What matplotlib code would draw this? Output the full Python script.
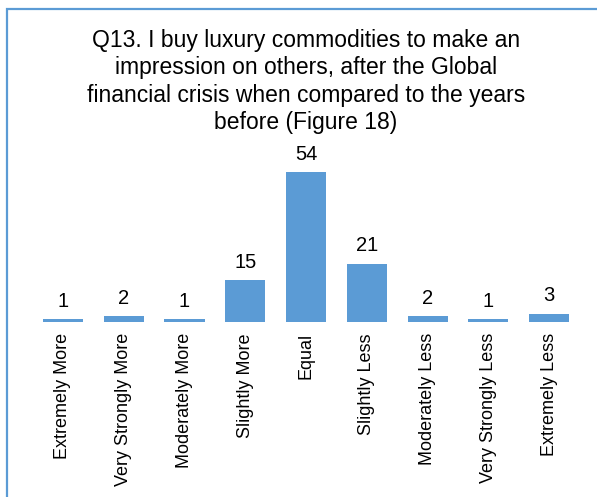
import matplotlib.pyplot as plt
from matplotlib.patches import Rectangle

categories = ["Extremely More", "Very Strongly More", "Moderately More",
              "Slightly More", "Equal", "Slightly Less", "Moderately Less",
              "Very Strongly Less", "Extremely Less"]
counts = [1, 2, 1, 15, 54, 21, 2, 1, 3]

title = ("Q13. I buy luxury commodities to make an\n"
         "impression on others, after the Global\n"
         "financial crisis when compared to the years\n"
         "before (Figure 18)")

plt.rcParams['font.family'] = ['Liberation Sans', 'DejaVu Sans']

W, H = 597, 497
fig = plt.figure(figsize=(W / 100, H / 100), dpi=100)

# chart frame, runs off the right and bottom edges
fig.patches.append(Rectangle((7 / W, -0.1), 1.2, 1 - 9 / H + 0.1,
                             transform=fig.transFigure, fill=False,
                             edgecolor='#5B9BD5', linewidth=1.6))

ax = fig.add_axes([32.6 / W, 1 - 322 / H, 547 / W, 166.7 / H])
x = range(len(categories))
bars = ax.bar(x, counts, width=0.66, color='#5B9BD5')
for b, v in zip(bars, counts):
    ax.annotate(str(v), (b.get_x() + b.get_width() / 2, v),
                xytext=(0, 6), textcoords='offset points',
                ha='center', va='bottom', fontsize=14.5)

ax.set_xlim(-0.5, len(categories) - 0.5)
ax.set_ylim(0, 60)
ax.set_xticks(list(x))
ax.set_xticklabels(categories, rotation=90, fontsize=13)
ax.tick_params(axis='x', length=0, pad=8)
ax.set_yticks([])
for s in ax.spines.values():
    s.set_visible(False)

fig.text(306 / W, 1 - 29 / H, title, ha='center', va='top',
         fontsize=16.5, linespacing=1.24)

fig.savefig('out.png', dpi=100)
